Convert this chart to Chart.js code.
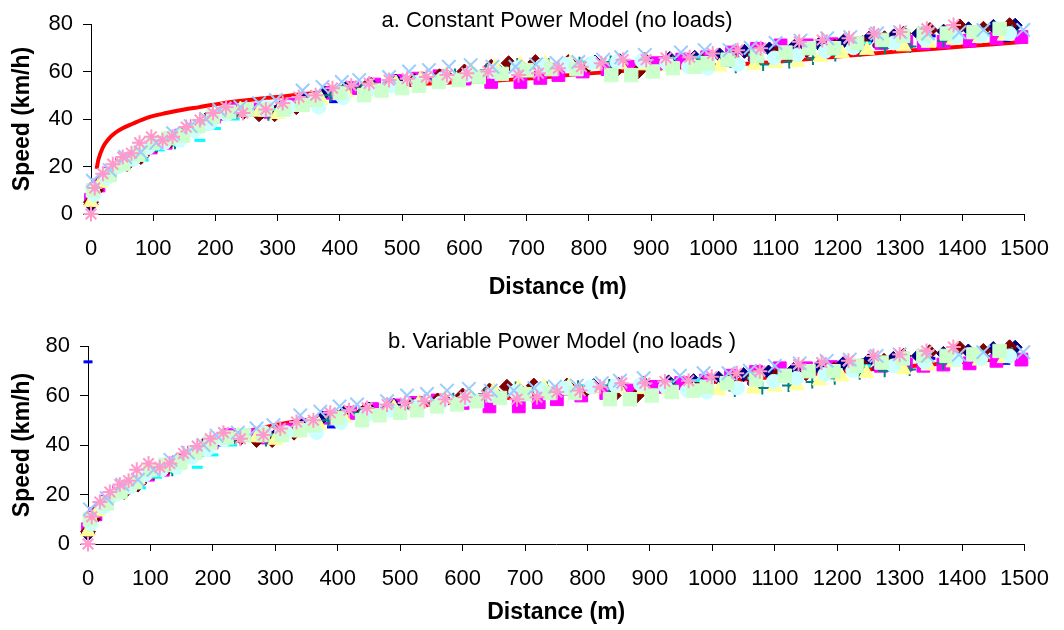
<!DOCTYPE html>
<html><head><meta charset="utf-8">
<script src="https://cdn.jsdelivr.net/npm/chart.js@4/dist/chart.umd.min.js"></script>
<style>
html,body{margin:0;padding:0;background:#fff;}
#wrap{position:relative;width:1064px;height:630px;overflow:hidden;}
canvas{position:absolute;left:0;}
</style></head><body>
<div id="wrap">
<canvas id="ca" width="1064" height="315" style="top:0;width:1064px;height:315px"></canvas>
<canvas id="cb" width="1064" height="315" style="top:315px;width:1064px;height:315px"></canvas>
</div>
<script>
// ---- Data (distance in m, speed in km/h) ----
const titleA = "a. Constant Power Model (no loads)";
const titleB = "b. Variable Power Model (no loads )";
const xLabel = "Distance (m)";
const yLabel = "Speed (km/h)";

const darkRedD = [0,8,20,38,58,80,105,128,150,172,195,220,245,270,295,330,365,400,440,480,520,560,600,643,671,714,767,799,842,879,930,983,1030,1065,1103,1150,1195,1240,1275,1306,1348,1396,1434,1476];
const darkRedV = [5,10,14,19,21,24,29,31,34,37,41,43,43,42,42,45,48,51,53,55,56,58,60,62,63.5,64,64,62.7,60,60,62,64,66,67,68,69,70.5,72,74,76,77.5,79,78,79.5];

const magentaD = [0,12,30,50,72,96,120,145,170,198,226,256,288,320,352,385,420,455,490,525,560,600,643,690,722,751,790,830,870,910,950,990,1030,1070,1108,1150,1190,1230,1270,1310,1338,1370,1412,1455,1495];
const magentaV = [6,12,17,21,24,28,30,33,37,41,44,44,43,46,48,51,53,54.5,56,57,58,57,55.6,55.6,57.3,58.5,60,61,62,63.5,65,66,68,69.5,71,71,71.5,72,72,72.5,72,72.5,73,74,74.5];

const yellowD = [0,15,35,55,80,105,130,155,180,210,240,270,300,335,370,410,450,490,530,570,610,650,690,730,770,810,850,890,930,970,1010,1066,1100,1135,1172,1207,1247,1306,1346,1386,1428,1468];
const yellowV = [5,13,19,22,26,30,32,35,39,42,44,43,42,45,48,51,53.5,55,57,58.5,60.5,62,63,63.5,63.5,63,63,62.5,62,62,62,62.7,63.5,64,66,67.6,69,70.5,72,73.3,74,75];

const lightCyanD = [5,25,45,68,92,118,142,166,190,218,248,282,318,366,405,445,485,525,565,605,645,685,725,765,805,845,885,925,960,991,1040,1098,1135,1180,1225,1290,1340,1390,1430,1476];
const lightCyanV = [8,15,20,23,28,30,31,35,38,42,44,45,45,45,49,52,54,55.5,57,58.5,60,61.5,62.5,63,63.5,64,64.5,63.5,62,61.4,63,65.7,67,68.5,70,72,73.5,74.5,75,76];

const lightGreenD = [3,30,52,76,100,124,148,172,196,222,250,280,310,340,361,400,439,467,500,527,559,591,623,660,700,740,780,836,868,903,935,970,991,1023,1070,1116,1154,1194,1231,1271,1305,1338,1375,1418,1460];
const lightGreenV = [10,16.4,21,25,30,32,33,37,41,43,44,44,44,46,48,51,50,52,53,54,55.6,56.4,57.7,59,60.5,61,61,58.5,58.5,60,61.4,62,63.5,65,66.5,68,69.8,69.8,72,73.3,75,76,76,76.6,78];

const tealD = [10,40,85,135,185,235,285,335,385,435,485,535,585,635,685,735,785,835,885,935,985,1036,1080,1122,1160,1196,1236,1276,1316,1370,1434,1480];
const tealV = [12,19,27,30,38,43,42,46,50,53,55,57,58.5,60.5,63,63,63.5,64,64.5,64,64,62,63,64,65.5,67,69,70,70.5,73,76,77];

const blueD = [0,2,20,45,70,95,120,150,180,210,245,280,315,350,390,430,470,510,550,590,630,670,710,750,790,830,870,910,950,990,1030,1070,1110,1150,1190,1230,1270,1310,1350,1390,1430,1470];
const blueV = [5,9,15,20,24,28,31,32,36,40,43,44,44,47,47.3,51,53,55,56.5,58,59.5,61,61.5,62,61,62,63.5,64.5,65.5,66.5,67.5,69,70,71,72,73,74,75,75,75.5,73.5,73];

const blueOutlierBD = [0];
const blueOutlierBV = [73.6];

const purpleD = [0,15,40,65,90,115,140,165,190,215,240,265,290,320,350,380,410,445,480,515,550,585,620,660,700,740,780,820,860,900,940,980,1020,1060,1100,1140,1180,1220,1260,1300,1340,1380,1420,1460];
const purpleV = [3,11,18,21,25,29,32,34,38,42,44,44,42,44,47,50,51,53,54.5,56,57,58,59,60.5,61,62,62,62,62,61.5,61,62,64,65,66,67,68.5,70,71,72,72.5,73,74,76];

const cyanD = [5,25,50,84,110,140,175,200,230,265,300,345,390,435,480,525,570,615,660,705,750,795,840,885,930,975,1020,1065,1110,1155,1200,1245,1290,1335,1380,1425,1470];
const cyanV = [9,14,19,22.7,27,29,31,36,40,43,44,47,50,52.5,54.5,56,57.5,59,60.5,62,63,64,64.5,65,65.5,66,66.5,67,68,69,70.5,72,73,74,75,76,76.5];

const lightBlueD = [3,30,55,80,105,132,160,185,206,240,270,297,340,372,403,431,479,511,543,575,610,645,682,715,748,783,823,852,890,948,986,1026,1060,1100,1140,1183,1220,1263,1300,1345,1395,1434,1498];
const lightBlueV = [14,18.5,24,26,30,34,37,40,43.8,45,46.7,48,52,53.5,55.6,56.4,57.7,60,60.6,62,62.7,62,62,63,63.6,64,65,66,67,68,69,69,70,72,73,74,74.5,76,76.6,76,76.5,77.5,77.5];

const pinkD = [0,6,19,35,51,65,78,97,115,131,153,175,196,217,244,281,308,334,361,388,418,447,479,508,539,572,604,638,687,719,751,788,820,855,892,924,962,999,1039,1076,1138,1175,1218,1258,1300,1343,1386];
const pinkV = [0,11,17,21,24,25.6,30,32.5,31,32.5,36.6,39.6,42.5,45,42.5,44,46.7,49.3,50,53,54,55,56.4,57,57.7,58.5,59.3,60,58.5,59.3,61.4,62,63.5,65,65,65.7,66,67.6,69,69.8,72.5,73.3,74,76,76.6,78,79.6];

const navyD = [0,20,45,70,95,125,155,185,215,245,275,305,340,375,410,450,490,530,570,610,650,690,730,770,810,850,890,930,970,1010,1050,1090,1130,1170,1210,1250,1290,1330,1370,1410,1450,1485];
const navyV = [4,15,20,24,29,31,35,40,43,44,43,45,48,51,53,54.5,56,57,58.5,60,61.5,62.5,63,63.5,64,64.5,65,65.5,66,67,68.5,69.5,70.5,71.5,73,74,75,76,77,78,79,79.5];

const modelAD = [9,12,19,28,38,50,67,90,121,150,174,220,281,361,450,550,640,700,790,900,1000,1100,1200,1300,1400,1500];
const modelAV = [19,23,28,31.5,34,36,38,40.5,42.5,44,45,47,48.8,51,53,55,56,57,59,61,62.5,64,66.3,68.5,70.5,72.5];

const modelBD = [0,10,25,50,75,100,130,160,200,240,280,320,360,400,450,500,600,700,800,900,1000,1100,1200,1300,1400,1500];
const modelBV = [5,12,17,22,26,30,33,37,41,44.5,47,49,50.5,52,53.5,55,57.5,59.5,61.5,63.5,65.5,67.5,69.5,71.5,73.5,75.5];

const xMin = 0, xMax = 1500, xStep = 100;
const yMin = 0, yMax = 80, yStep = 20;

// ---- helpers ----
function pts(d, v) { return d.map((x, i) => ({x: x, y: v[i]})); }
function marker(d, v, color, style, r, bw) {
  return { data: pts(d, v), pointStyle: style, pointRadius: r, pointBorderWidth: bw,
    backgroundColor: color, borderColor: color, showLine: false, clip: false };
}
function markerSets() {
  return [
    marker(pinkD, pinkV, '#FF99CC', 'star', 7.5, 2),
    marker(lightBlueD, lightBlueV, '#99CCFF', 'crossRot', 9.5, 2),
    marker(lightGreenD, lightGreenV, '#CCFFCC', 'rect', 9.5, 1),
    marker(lightCyanD, lightCyanV, '#CCFFFF', 'circle', 7, 1),
    marker(yellowD, yellowV, '#FFFF99', 'triangle', 8.5, 1),
    marker(tealD, tealV, '#008080', 'cross', 6.5, 2),
    marker(cyanD, cyanV, '#00FFFF', 'line', 5.5, 3),
    marker(darkRedD, darkRedV, '#800000', 'rectRot', 7.5, 1),
    marker(navyD, navyV, '#000080', 'rectRot', 7, 1),
    marker(magentaD, magentaV, '#FF00FF', 'rect', 9, 1),
    marker(purpleD, purpleV, '#800080', 'circle', 2.5, 1),
    marker(blueD, blueV, '#0000FF', 'line', 4.5, 3)
  ];
}
function modelSet(d, v) {
  return { data: pts(d, v), showLine: true, pointRadius: 0, borderColor: '#FF0000',
    backgroundColor: '#FF0000', borderWidth: 4, cubicInterpolationMode: 'monotone', fill: false, clip: false };
}

const FONT = '"Liberation Sans", Arial, sans-serif';
const titlePlugin = {
  id: 'panelTitle',
  afterDraw(chart, args, opts) {
    const ctx = chart.ctx;
    ctx.save();
    ctx.font = '22px ' + FONT;
    ctx.fillStyle = '#000';
    ctx.textAlign = 'center';
    ctx.textBaseline = 'middle';
    ctx.fillText(opts.text, opts.x, opts.y);
    ctx.restore();
  }
};

function build(id, extraTop, model, L) {
  const datasets = extraTop.concat(markerSets(), [model]);
  return new Chart(document.getElementById(id), {
    type: 'scatter',
    data: { datasets },
    plugins: [titlePlugin],
    options: {
      responsive: false, animation: false, devicePixelRatio: 1,
      layout: { padding: { left: 0, top: L.top, right: L.right, bottom: 0 } },
      plugins: { legend: { display: false }, tooltip: { enabled: false },
        panelTitle: { text: L.title, x: L.tx, y: L.ty } },
      scales: {
        x: {
          type: 'linear', min: xMin, max: xMax,
          afterFit: s => { s.height = L.xh; },
          ticks: { stepSize: xStep, autoSkip: false, maxRotation: 0, color: '#000', padding: L.tpad,
            callback: v => String(v), font: { family: FONT, size: 22 } },
          grid: { display: true, drawOnChartArea: false, drawTicks: true, tickLength: 7, color: '#000' },
          border: { display: true, color: '#000', width: 1 },
          title: { display: true, text: xLabel, color: '#000', padding: { top: 0, bottom: L.xtp },
            font: { family: FONT, size: 23, weight: 'bold' } }
        },
        y: {
          type: 'linear', min: yMin, max: yMax,
          afterFit: s => { s.width = L.left; },
          ticks: { stepSize: yStep, color: '#000', padding: 10, callback: v => String(v),
            font: { family: FONT, size: 22 } },
          grid: { display: true, drawOnChartArea: false, drawTicks: true, tickLength: 8, color: '#000' },
          border: { display: true, color: '#000', width: 1 },
          title: { display: true, text: yLabel, color: '#000', padding: { top: 9, bottom: 0 },
            font: { family: FONT, size: 23, weight: 'bold' } }
        }
      }
    }
  });
}

build('ca', [], modelSet(modelAD, modelAV),
  { top: 24, right: 36, left: 91, xh: 101, xtp: 14, tpad: 15, title: titleA, tx: 557, ty: 21 });
build('cb', [marker(blueOutlierBD, blueOutlierBV, '#0000FF', 'line', 4.5, 3)], modelSet(modelBD, modelBV),
  { top: 31, right: 35, left: 88, xh: 86, xtp: 4, tpad: 15, title: titleB, tx: 562, ty: 26.5 });
</script>
</body></html>
